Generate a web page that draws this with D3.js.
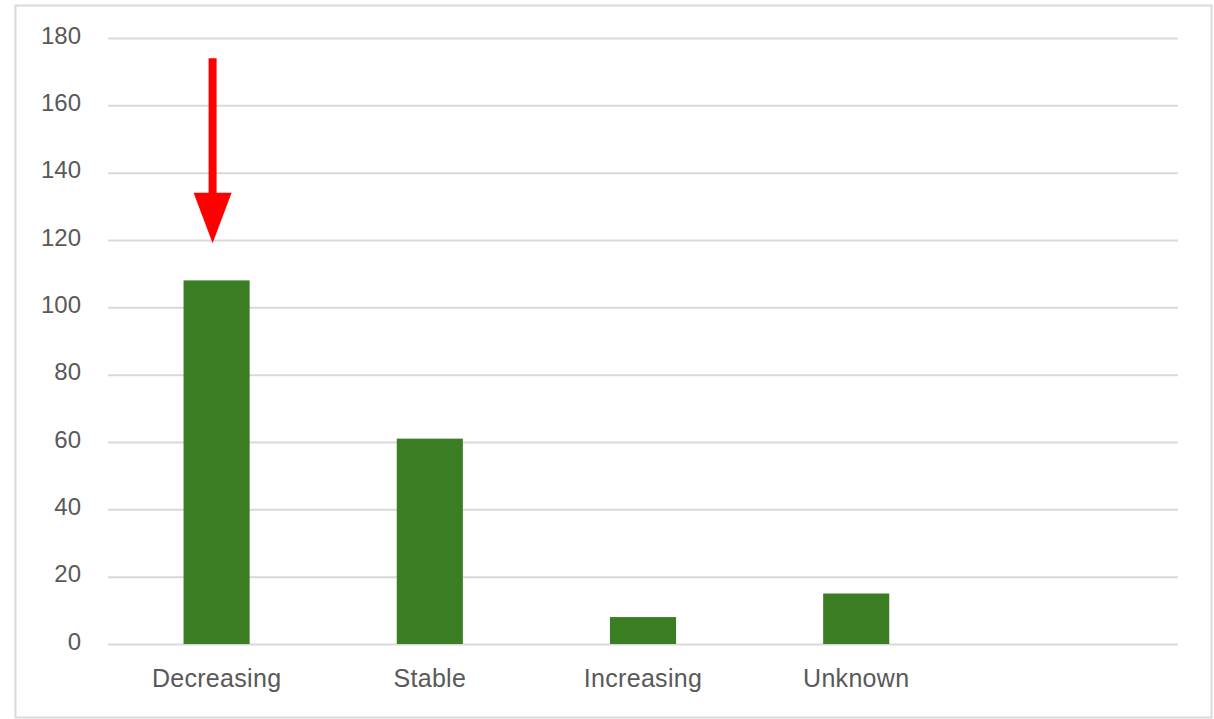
<!DOCTYPE html>
<html>
<head>
<meta charset="utf-8">
<script src="https://cdn.jsdelivr.net/npm/d3@7"></script>
<style>
  html, body { margin: 0; padding: 0; background: #ffffff; }
  svg { display: block; }
</style>
</head>
<body>
<svg id="chart" width="1214" height="719"></svg>
<script>
// Population trend counts per category (the last slot is left empty)
const categories = ["Decreasing", "Stable", "Increasing", "Unknown", ""];
const counts = [108, 61, 8, 15];
const yTicks = [0, 20, 40, 60, 80, 100, 120, 140, 160, 180];

// Annotation arrow pointing at the first bar, in data units
const arrowTarget = "Decreasing";
const arrowFrom = 174;
const arrowHeadBase = 134;
const arrowTip = 119;

const svg = d3.select("#chart");

// Outer frame
svg.append("rect")
  .attr("x", 15.5).attr("y", 5.5)
  .attr("width", 1196).attr("height", 712)
  .attr("fill", "#ffffff")
  .attr("stroke", "#d9d9d9")
  .attr("stroke-width", 2);

const x = d3.scaleBand()
  .domain(categories)
  .range([110, 1176])
  .paddingInner(0.69)
  .paddingOuter(0.345);

const y = d3.scaleLinear()
  .domain([0, 180])
  .range([644, 38]);

// Horizontal gridlines and value labels
const yAxis = d3.axisLeft(y)
  .tickValues(yTicks)
  .tickSize(-(1178 - 108))
  .tickPadding(27)
  .tickFormat(d3.format("d"));

const gy = svg.append("g")
  .attr("transform", "translate(108,0)")
  .call(yAxis);
gy.select(".domain").remove();
gy.selectAll(".tick line")
  .attr("stroke", "#d9d9d9")
  .attr("stroke-width", 2);
gy.selectAll(".tick text")
  .attr("fill", "#595959")
  .attr("dy", "0.22em")
  .style("font-family", "'Liberation Sans', Arial, sans-serif")
  .style("font-size", "24px");

// Bars
svg.append("g")
  .selectAll("rect")
  .data(counts)
  .join("rect")
  .attr("x", (d, i) => x(categories[i]))
  .attr("y", d => y(d))
  .attr("width", x.bandwidth())
  .attr("height", d => y(0) - y(d))
  .attr("fill", "#3b7d23");

// Category labels
const xAxis = d3.axisBottom(x).tickSize(0).tickPadding(25);
const gx = svg.append("g")
  .attr("transform", "translate(0,644)")
  .call(xAxis);
gx.select(".domain").remove();
gx.selectAll(".tick text")
  .attr("fill", "#595959")
  .style("font-family", "'Liberation Sans', Arial, sans-serif")
  .style("font-size", "25px")
  .style("letter-spacing", "0.3px");

// Red arrow
const ax = x(arrowTarget) + x.bandwidth() / 2 - 4;
svg.append("line")
  .attr("x1", ax).attr("x2", ax)
  .attr("y1", y(arrowFrom)).attr("y2", y(arrowHeadBase) + 1)
  .attr("stroke", "#ff0000")
  .attr("stroke-width", 8);
svg.append("path")
  .attr("d", `M${ax - 19},${y(arrowHeadBase)} L${ax + 19},${y(arrowHeadBase)} L${ax},${y(arrowTip)} Z`)
  .attr("fill", "#ff0000");
</script>
</body>
</html>
